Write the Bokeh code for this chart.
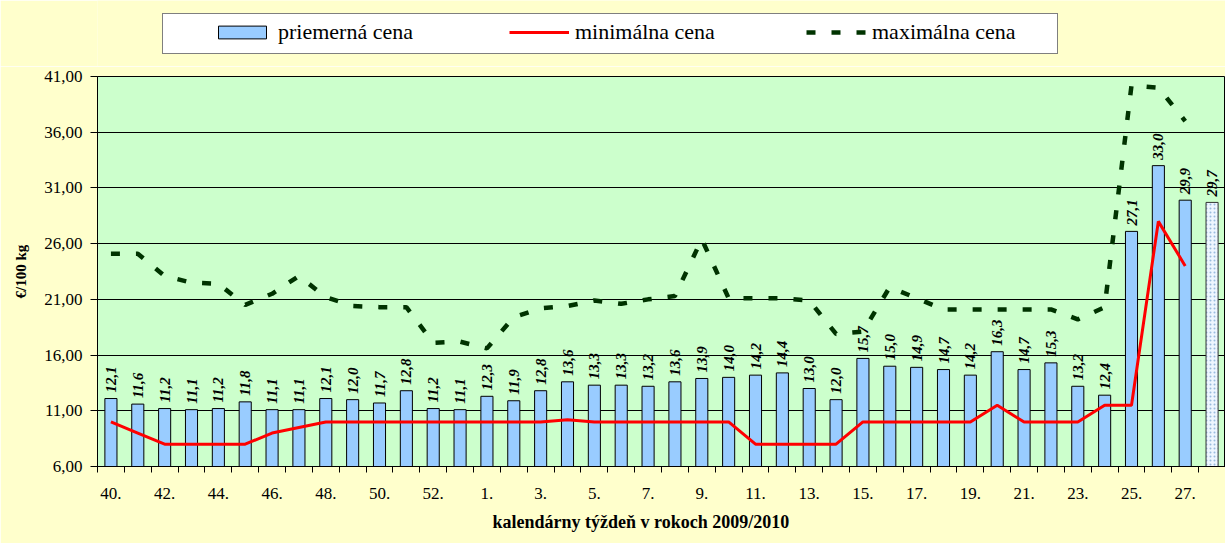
import math
from bokeh.plotting import figure
from bokeh.layouts import column
from bokeh.models import (ColumnDataSource, FixedTicker, Legend, LegendItem,
                          CDSView, IndexFilter, Title, Range1d)
from bokeh.embed import file_html
from bokeh.resources import INLINE

# ---------------- data ----------------
weeks = [40, 41, 42, 43, 44, 45, 46, 47, 48, 49, 50, 51, 52, 53,
         1, 2, 3, 4, 5, 6, 7, 8, 9, 10, 11, 12, 13, 14, 15, 16, 17, 18,
         19, 20, 21, 22, 23, 24, 25, 26, 27, 28]

avg_price = [12.1, 11.6, 11.2, 11.1, 11.2, 11.8, 11.1, 11.1, 12.1, 12.0,
             11.7, 12.8, 11.2, 11.1, 12.3, 11.9, 12.8, 13.6, 13.3, 13.3,
             13.2, 13.6, 13.9, 14.0, 14.2, 14.4, 13.0, 12.0, 15.7, 15.0,
             14.9, 14.7, 14.2, 16.3, 14.7, 15.3, 13.2, 12.4, 27.1, 33.0,
             29.9, 29.7]

min_price = [10.0, 9.0, 8.0, 8.0, 8.0, 8.0, 9.0, 9.5, 10.0, 10.0,
             10.0, 10.0, 10.0, 10.0, 10.0, 10.0, 10.0, 10.2, 10.0, 10.0,
             10.0, 10.0, 10.0, 10.0, 8.0, 8.0, 8.0, 8.0, 10.0, 10.0,
             10.0, 10.0, 10.0, 11.5, 10.0, 10.0, 10.0, 11.5, 11.5, 28.0,
             24.0, float("nan")]

max_price = [25.1, 25.1, 23.1, 22.5, 22.4, 20.5, 21.5, 23.1, 21.2, 20.4,
             20.3, 20.3, 17.1, 17.2, 16.6, 19.4, 20.2, 20.4, 20.9, 20.6,
             21.0, 21.3, 26.4, 21.1, 21.1, 21.1, 20.9, 17.9, 18.1, 22.1,
             21.1, 20.1, 20.1, 20.1, 20.1, 20.1, 19.2, 20.3, 40.2, 40.0,
             37.0, float("nan")]

y_ticks = [6, 11, 16, 21, 26, 31, 36, 41]

series_names = ["priemerná cena", "minimálna cena", "maximálna cena"]
x_title = "kalendárny týždeň v rokoch 2009/2010"
y_title = "€/100 kg"

FONT = "Liberation Serif"
BG = "#FFFFCC"
BAR_COLOR = "#99CCFF"
MIN_COLOR = "#FF0000"
MAX_COLOR = "#003300"

idx = list(range(len(weeks)))
labels = [f"{v:.1f}".replace(".", ",") for v in avg_price]
src = ColumnDataSource(dict(x=idx, avg=avg_price, mn=min_price, mx=max_price,
                            lab=labels))

# ---------------- legend strip (top) ----------------
# the strip's ranges lie outside the data, so only the legend is visible
lf = figure(width=1225, height=66, x_range=Range1d(1000, 1001),
            y_range=Range1d(1000, 1001),
            output_backend="svg", toolbar_location=None, min_border=0,
            x_axis_type=None, y_axis_type=None)
lf.outline_line_color = None
lf.background_fill_color = BG
lf.border_fill_color = BG
lf.grid.visible = False

lg_bar = lf.vbar(x="x", top="avg", bottom=y_ticks[0], width=0.45, source=src,
                 fill_color=BAR_COLOR, line_color="black", line_width=1)
lg_min = lf.line(x="x", y="mn", source=src, line_color=MIN_COLOR, line_width=3)
lg_max = lf.line(x="x", y="mx", source=src, line_color=MAX_COLOR,
                 line_width=4.5, line_dash="9 16")
lg_box = lf.scatter(x=[], y=[], size=1, fill_alpha=0, line_alpha=0)

box_legend = Legend(items=[LegendItem(label=" ", renderers=[lg_box])],
                    location=(65, 12), padding=9, margin=0,
                    glyph_width=876, glyph_height=21, label_height=21,
                    label_width=0, label_standoff=0,
                    label_text_font_size="10px",
                    border_line_color="black", border_line_width=1,
                    background_fill_color="white", background_fill_alpha=1)
lf.add_layout(box_legend)

items_legend = Legend(items=[LegendItem(label=series_names[0], renderers=[lg_bar]),
                             LegendItem(label=series_names[1], renderers=[lg_min]),
                             LegendItem(label=series_names[2], renderers=[lg_max])],
                      location=(108, 14), orientation="horizontal",
                      padding=7, margin=0, spacing=51,
                      glyph_width=60, glyph_height=16, label_height=16,
                      label_width=180, label_standoff=6,
                      label_text_font=FONT, label_text_font_size="22px",
                      label_text_color="black",
                      border_line_alpha=0, background_fill_alpha=0)
lf.add_layout(items_legend)

# ---------------- main chart ----------------
p = figure(width=1225, height=477, output_backend="svg", toolbar_location=None,
           x_range=Range1d(-0.5, len(weeks) - 0.5),
           y_range=Range1d(y_ticks[0], y_ticks[-1]),
           min_border_left=97, min_border_right=0, min_border_top=10,
           min_border_bottom=77)

p.border_fill_color = BG
p.background_fill_color = "#CCFFCC"
p.outline_line_color = "black"
p.outline_line_width = 1

p.xgrid.visible = False
p.ygrid.ticker = FixedTicker(ticks=y_ticks)
p.ygrid.grid_line_color = "black"
p.ygrid.grid_line_width = 1

main_view = CDSView(filter=IndexFilter(list(range(len(weeks) - 1))))
last_view = CDSView(filter=IndexFilter([len(weeks) - 1]))
p.vbar(x="x", top="avg", bottom=y_ticks[0], width=0.45, source=src,
       view=main_view, fill_color=BAR_COLOR, line_color="black", line_width=1)
p.vbar(x="x", top="avg", bottom=y_ticks[0], width=0.45, source=src,
       view=last_view, fill_color="#EEF5FF", line_color="#333333",
       line_width=1, hatch_pattern="dot", hatch_color="#99BBDD",
       hatch_scale=4)

p.text(x="x", y="avg", text="lab", source=src, angle=math.pi / 2,
       text_align="left", text_baseline="middle", y_offset=-6,
       text_font={"value": FONT}, text_font_size="15px",
       text_font_style="bold italic", text_color="black")

p.line(x="x", y="mn", source=src, line_color=MIN_COLOR, line_width=3)
p.line(x="x", y="mx", source=src, line_color=MAX_COLOR, line_width=4.5,
       line_dash="9 16")

xa = p.xaxis[0]
xa.ticker = FixedTicker(ticks=list(range(0, len(weeks), 2)),
                        minor_ticks=[i - 0.5 for i in range(len(weeks) + 1)])
xa.major_label_overrides = {i: f"{weeks[i]}." for i in range(0, len(weeks), 2)}
xa.major_tick_line_color = None
xa.minor_tick_line_color = "black"
xa.minor_tick_out = 6
xa.minor_tick_in = 0
xa.axis_line_color = "black"
xa.major_label_text_font = FONT
xa.major_label_text_font_size = "17px"
xa.major_label_text_color = "black"
xa.major_label_standoff = 15

ya = p.yaxis[0]
ya.ticker = FixedTicker(ticks=y_ticks)
ya.major_label_overrides = {v: f"{v},00" for v in y_ticks}
ya.major_tick_out = 7
ya.major_tick_in = 0
ya.minor_tick_line_color = None
ya.axis_line_color = "black"
ya.major_label_text_font = FONT
ya.major_label_text_font_size = "17px"
ya.major_label_text_color = "black"
ya.major_label_standoff = 8
ya.axis_label = y_title
ya.axis_label_text_font = FONT
ya.axis_label_text_font_size = "15px"
ya.axis_label_text_font_style = "bold"
ya.axis_label_text_color = "black"
ya.axis_label_standoff = 12

xt = Title(text=x_title, align="left", offset=395, text_font=FONT,
           text_font_size="18px", text_font_style="bold", text_color="black",
           standoff=17)
p.add_layout(xt, "below")

layout = column(lf, p, spacing=0)

open("out.html", "w").write(file_html(layout, INLINE))
